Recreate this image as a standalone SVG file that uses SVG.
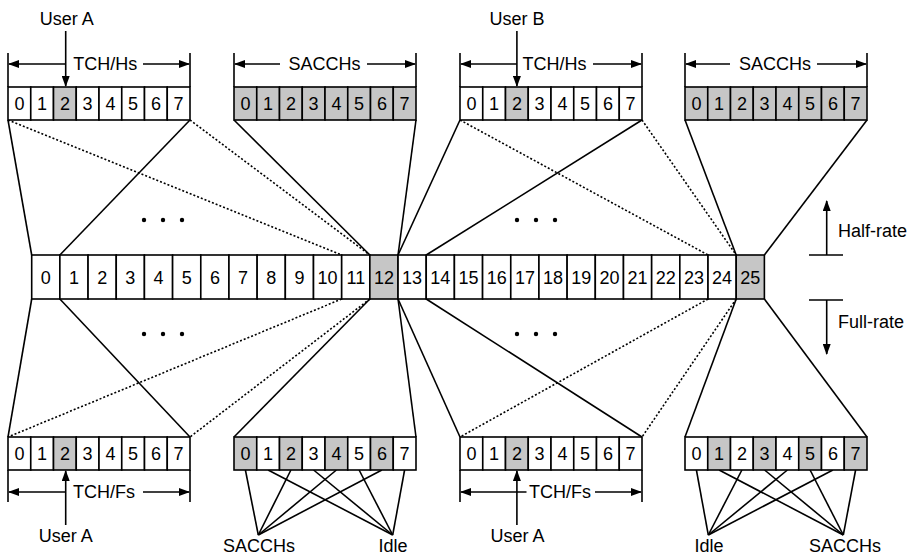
<svg xmlns="http://www.w3.org/2000/svg" width="911" height="556" viewBox="0 0 911 556">
<style>
text{font-family:"Liberation Sans",Arial,sans-serif;font-size:18px;fill:#000;text-anchor:middle}
.c{fill:#fff;stroke:#000;stroke-width:1.6}
.g{fill:#c6c6c6;stroke:#000;stroke-width:1.6}
.ln{stroke:#000;stroke-width:1.6;fill:none}
.dt{stroke:#000;stroke-width:1.6;fill:none;stroke-dasharray:2 2}
.ar{stroke:#000;stroke-width:1.6;fill:none;marker-end:url(#ah)}
</style>
<defs>
<marker id="ah" markerUnits="userSpaceOnUse" markerWidth="11" markerHeight="8" refX="10" refY="4" orient="auto">
<path d="M0,0 L11,4 L0,8 z" fill="#000"/>
</marker>
</defs>

<g id="connectors">
<!-- top half-rate fans -->
<line class="ln" x1="8" y1="120" x2="31.7" y2="255"/>
<line class="ln" x1="190" y1="120" x2="59.88" y2="255"/>
<line class="dt" x1="8" y1="120" x2="341.68" y2="255"/>
<line class="dt" x1="190" y1="120" x2="369.86" y2="255"/>
<line class="ln" x1="234" y1="120" x2="369.86" y2="255"/>
<line class="ln" x1="416" y1="120" x2="398.04" y2="255"/>
<line class="ln" x1="460" y1="120" x2="398.04" y2="255"/>
<line class="ln" x1="642" y1="120" x2="426.22" y2="255"/>
<line class="dt" x1="460" y1="120" x2="708.02" y2="255"/>
<line class="dt" x1="642" y1="120" x2="736.2" y2="255"/>
<line class="ln" x1="685" y1="120" x2="736.2" y2="255"/>
<line class="ln" x1="867" y1="120" x2="764.38" y2="255"/>
<!-- bottom full-rate fans -->
<line class="ln" x1="31.7" y1="299" x2="8" y2="437"/>
<line class="ln" x1="59.88" y1="299" x2="190" y2="437"/>
<line class="dt" x1="341.68" y1="299" x2="8" y2="437"/>
<line class="dt" x1="369.86" y1="299" x2="190" y2="437"/>
<line class="ln" x1="369.86" y1="299" x2="234" y2="437"/>
<line class="ln" x1="398.04" y1="299" x2="416" y2="437"/>
<line class="ln" x1="398.04" y1="299" x2="460" y2="437"/>
<line class="ln" x1="426.22" y1="299" x2="642" y2="437"/>
<line class="dt" x1="708.02" y1="299" x2="460" y2="437"/>
<line class="dt" x1="736.2" y1="299" x2="642" y2="437"/>
<line class="ln" x1="736.2" y1="299" x2="685" y2="437"/>
<line class="ln" x1="764.38" y1="299" x2="867" y2="437"/>
<!-- SACCH / Idle fans bottom left -->
<line class="ln" x1="245.4" y1="470" x2="258.3" y2="535"/>
<line class="ln" x1="290.9" y1="470" x2="258.3" y2="535"/>
<line class="ln" x1="336.4" y1="470" x2="258.3" y2="535"/>
<line class="ln" x1="381.9" y1="470" x2="258.3" y2="535"/>
<line class="ln" x1="268.1" y1="470" x2="392.7" y2="535"/>
<line class="ln" x1="313.6" y1="470" x2="392.7" y2="535"/>
<line class="ln" x1="359.1" y1="470" x2="392.7" y2="535"/>
<line class="ln" x1="404.6" y1="470" x2="392.7" y2="535"/>
<!-- bottom right -->
<line class="ln" x1="696.4" y1="470" x2="708.3" y2="535"/>
<line class="ln" x1="741.9" y1="470" x2="708.3" y2="535"/>
<line class="ln" x1="787.4" y1="470" x2="708.3" y2="535"/>
<line class="ln" x1="832.9" y1="470" x2="708.3" y2="535"/>
<line class="ln" x1="719.1" y1="470" x2="843.3" y2="535"/>
<line class="ln" x1="764.6" y1="470" x2="843.3" y2="535"/>
<line class="ln" x1="810.1" y1="470" x2="843.3" y2="535"/>
<line class="ln" x1="855.6" y1="470" x2="843.3" y2="535"/>
</g>

<g id="ellipsis">
<circle cx="144" cy="220" r="2.2"/><circle cx="163" cy="220" r="2.2"/><circle cx="182" cy="220" r="2.2"/>
<circle cx="517" cy="220" r="2.2"/><circle cx="536" cy="220" r="2.2"/><circle cx="555" cy="220" r="2.2"/>
<circle cx="144" cy="334" r="2.2"/><circle cx="163" cy="334" r="2.2"/><circle cx="182" cy="334" r="2.2"/>
<circle cx="517" cy="334" r="2.2"/><circle cx="536" cy="334" r="2.2"/><circle cx="555" cy="334" r="2.2"/>
</g>

<g id="top-tch-hs-a">
<line class="ln" x1="8" y1="53" x2="8" y2="87"/><line class="ln" x1="190" y1="53" x2="190" y2="87"/>
<line class="ar" x1="65.7" y1="64" x2="9" y2="64"/><line class="ar" x1="143" y1="64" x2="189" y2="64"/>
<text x="105.3" y="69.5">TCH/Hs</text>
<text x="66.7" y="25">User A</text>
<line class="ar" x1="65.7" y1="31" x2="65.7" y2="86"/>
<rect class="c" x="8" y="87" width="22.75" height="33"/><rect class="c" x="30.75" y="87" width="22.75" height="33"/><rect class="g" x="53.5" y="87" width="22.75" height="33"/><rect class="c" x="76.25" y="87" width="22.75" height="33"/><rect class="c" x="99" y="87" width="22.75" height="33"/><rect class="c" x="121.75" y="87" width="22.75" height="33"/><rect class="c" x="144.5" y="87" width="22.75" height="33"/><rect class="c" x="167.25" y="87" width="22.75" height="33"/>
<text x="19.4" y="110">0</text><text x="42.1" y="110">1</text><text x="64.9" y="110">2</text><text x="87.6" y="110">3</text><text x="110.4" y="110">4</text><text x="133.1" y="110">5</text><text x="155.9" y="110">6</text><text x="178.6" y="110">7</text>
</g>

<g id="top-sacch-1">
<line class="ln" x1="234" y1="53" x2="234" y2="87"/><line class="ln" x1="416" y1="53" x2="416" y2="87"/>
<line class="ar" x1="280" y1="64" x2="235" y2="64"/><line class="ar" x1="367" y1="64" x2="415" y2="64"/>
<text x="324.5" y="69.5">SACCHs</text>
<rect class="g" x="234" y="87" width="22.75" height="33"/><rect class="g" x="256.75" y="87" width="22.75" height="33"/><rect class="g" x="279.5" y="87" width="22.75" height="33"/><rect class="g" x="302.25" y="87" width="22.75" height="33"/><rect class="g" x="325" y="87" width="22.75" height="33"/><rect class="g" x="347.75" y="87" width="22.75" height="33"/><rect class="g" x="370.5" y="87" width="22.75" height="33"/><rect class="g" x="393.25" y="87" width="22.75" height="33"/>
<text x="245.4" y="110">0</text><text x="268.1" y="110">1</text><text x="290.9" y="110">2</text><text x="313.6" y="110">3</text><text x="336.4" y="110">4</text><text x="359.1" y="110">5</text><text x="381.9" y="110">6</text><text x="404.6" y="110">7</text>
</g>

<g id="top-tch-hs-b">
<line class="ln" x1="460" y1="53" x2="460" y2="87"/><line class="ln" x1="642" y1="53" x2="642" y2="87"/>
<line class="ar" x1="516.9" y1="64" x2="461" y2="64"/><line class="ar" x1="593" y1="64" x2="641" y2="64"/>
<text x="554.5" y="69.5">TCH/Hs</text>
<text x="516.9" y="25">User B</text>
<line class="ar" x1="516.9" y1="31" x2="516.9" y2="86"/>
<rect class="c" x="460" y="87" width="22.75" height="33"/><rect class="c" x="482.75" y="87" width="22.75" height="33"/><rect class="g" x="505.5" y="87" width="22.75" height="33"/><rect class="c" x="528.25" y="87" width="22.75" height="33"/><rect class="c" x="551" y="87" width="22.75" height="33"/><rect class="c" x="573.75" y="87" width="22.75" height="33"/><rect class="c" x="596.5" y="87" width="22.75" height="33"/><rect class="c" x="619.25" y="87" width="22.75" height="33"/>
<text x="471.4" y="110">0</text><text x="494.1" y="110">1</text><text x="516.9" y="110">2</text><text x="539.6" y="110">3</text><text x="562.4" y="110">4</text><text x="585.1" y="110">5</text><text x="607.9" y="110">6</text><text x="630.6" y="110">7</text>
</g>

<g id="top-sacch-2">
<line class="ln" x1="685" y1="53" x2="685" y2="87"/><line class="ln" x1="867" y1="53" x2="867" y2="87"/>
<line class="ar" x1="730" y1="64" x2="686" y2="64"/><line class="ar" x1="817" y1="64" x2="866" y2="64"/>
<text x="775" y="69.5">SACCHs</text>
<rect class="g" x="685" y="87" width="22.75" height="33"/><rect class="g" x="707.75" y="87" width="22.75" height="33"/><rect class="g" x="730.5" y="87" width="22.75" height="33"/><rect class="g" x="753.25" y="87" width="22.75" height="33"/><rect class="g" x="776" y="87" width="22.75" height="33"/><rect class="g" x="798.75" y="87" width="22.75" height="33"/><rect class="g" x="821.5" y="87" width="22.75" height="33"/><rect class="g" x="844.25" y="87" width="22.75" height="33"/>
<text x="696.4" y="110">0</text><text x="719.1" y="110">1</text><text x="741.9" y="110">2</text><text x="764.6" y="110">3</text><text x="787.4" y="110">4</text><text x="810.1" y="110">5</text><text x="832.9" y="110">6</text><text x="855.6" y="110">7</text>
</g>

<g id="multiframe">
<rect class="c" x="31.7" y="255" width="28.18" height="44"/><rect class="c" x="59.88" y="255" width="28.18" height="44"/><rect class="c" x="88.06" y="255" width="28.18" height="44"/><rect class="c" x="116.24" y="255" width="28.18" height="44"/><rect class="c" x="144.42" y="255" width="28.18" height="44"/><rect class="c" x="172.6" y="255" width="28.18" height="44"/><rect class="c" x="200.78" y="255" width="28.18" height="44"/><rect class="c" x="228.96" y="255" width="28.18" height="44"/><rect class="c" x="257.14" y="255" width="28.18" height="44"/><rect class="c" x="285.32" y="255" width="28.18" height="44"/><rect class="c" x="313.5" y="255" width="28.18" height="44"/><rect class="c" x="341.68" y="255" width="28.18" height="44"/><rect class="g" x="369.86" y="255" width="28.18" height="44"/><rect class="c" x="398.04" y="255" width="28.18" height="44"/><rect class="c" x="426.22" y="255" width="28.18" height="44"/><rect class="c" x="454.4" y="255" width="28.18" height="44"/><rect class="c" x="482.58" y="255" width="28.18" height="44"/><rect class="c" x="510.76" y="255" width="28.18" height="44"/><rect class="c" x="538.94" y="255" width="28.18" height="44"/><rect class="c" x="567.12" y="255" width="28.18" height="44"/><rect class="c" x="595.3" y="255" width="28.18" height="44"/><rect class="c" x="623.48" y="255" width="28.18" height="44"/><rect class="c" x="651.66" y="255" width="28.18" height="44"/><rect class="c" x="679.84" y="255" width="28.18" height="44"/><rect class="c" x="708.02" y="255" width="28.18" height="44"/><rect class="g" x="736.2" y="255" width="28.18" height="44"/>
<text x="45.8" y="283.5">0</text><text x="74" y="283.5">1</text><text x="102.2" y="283.5">2</text><text x="130.3" y="283.5">3</text><text x="158.5" y="283.5">4</text><text x="186.7" y="283.5">5</text><text x="214.9" y="283.5">6</text><text x="243.1" y="283.5">7</text><text x="271.2" y="283.5">8</text><text x="299.4" y="283.5">9</text><text x="327.6" y="283.5">10</text><text x="355.8" y="283.5">11</text><text x="384" y="283.5">12</text><text x="412.1" y="283.5">13</text><text x="440.3" y="283.5">14</text><text x="468.5" y="283.5">15</text><text x="496.7" y="283.5">16</text><text x="524.9" y="283.5">17</text><text x="553" y="283.5">18</text><text x="581.2" y="283.5">19</text><text x="609.4" y="283.5">20</text><text x="637.6" y="283.5">21</text><text x="665.8" y="283.5">22</text><text x="693.9" y="283.5">23</text><text x="722.1" y="283.5">24</text><text x="750.3" y="283.5">25</text>
</g>

<g id="rate-legend">
<line class="ln" x1="809" y1="255" x2="843" y2="255"/>
<line class="ar" x1="826.7" y1="255" x2="826.7" y2="201"/>
<text x="872.5" y="237" style="text-anchor:middle">Half-rate</text>
<line class="ln" x1="809" y1="300" x2="843" y2="300"/>
<line class="ar" x1="826.7" y1="300" x2="826.7" y2="354"/>
<text x="871" y="328">Full-rate</text>
</g>

<g id="bottom-tch-fs-a">
<rect class="c" x="8" y="437" width="22.75" height="33"/><rect class="c" x="30.75" y="437" width="22.75" height="33"/><rect class="g" x="53.5" y="437" width="22.75" height="33"/><rect class="c" x="76.25" y="437" width="22.75" height="33"/><rect class="c" x="99" y="437" width="22.75" height="33"/><rect class="c" x="121.75" y="437" width="22.75" height="33"/><rect class="c" x="144.5" y="437" width="22.75" height="33"/><rect class="c" x="167.25" y="437" width="22.75" height="33"/>
<text x="19.4" y="460">0</text><text x="42.1" y="460">1</text><text x="64.9" y="460">2</text><text x="87.6" y="460">3</text><text x="110.4" y="460">4</text><text x="133.1" y="460">5</text><text x="155.9" y="460">6</text><text x="178.6" y="460">7</text>
<line class="ln" x1="8" y1="470" x2="8" y2="502"/><line class="ln" x1="190" y1="470" x2="190" y2="502"/>
<line class="ar" x1="65.7" y1="492" x2="9" y2="492"/><line class="ar" x1="143" y1="492" x2="189" y2="492"/>
<text x="104" y="497.5">TCH/Fs</text>
<line class="ar" x1="65.7" y1="525" x2="65.7" y2="471"/>
<text x="65.7" y="542">User A</text>
</g>

<g id="bottom-sacch-1">
<rect class="g" x="234" y="437" width="22.75" height="33"/><rect class="c" x="256.75" y="437" width="22.75" height="33"/><rect class="g" x="279.5" y="437" width="22.75" height="33"/><rect class="c" x="302.25" y="437" width="22.75" height="33"/><rect class="g" x="325" y="437" width="22.75" height="33"/><rect class="c" x="347.75" y="437" width="22.75" height="33"/><rect class="g" x="370.5" y="437" width="22.75" height="33"/><rect class="c" x="393.25" y="437" width="22.75" height="33"/>
<text x="245.4" y="460">0</text><text x="268.1" y="460">1</text><text x="290.9" y="460">2</text><text x="313.6" y="460">3</text><text x="336.4" y="460">4</text><text x="359.1" y="460">5</text><text x="381.9" y="460">6</text><text x="404.6" y="460">7</text>
<text x="259" y="551.5">SACCHs</text>
<text x="393" y="551.5">Idle</text>
</g>

<g id="bottom-tch-fs-b">
<rect class="c" x="460" y="437" width="22.75" height="33"/><rect class="c" x="482.75" y="437" width="22.75" height="33"/><rect class="g" x="505.5" y="437" width="22.75" height="33"/><rect class="c" x="528.25" y="437" width="22.75" height="33"/><rect class="c" x="551" y="437" width="22.75" height="33"/><rect class="c" x="573.75" y="437" width="22.75" height="33"/><rect class="c" x="596.5" y="437" width="22.75" height="33"/><rect class="c" x="619.25" y="437" width="22.75" height="33"/>
<text x="471.4" y="460">0</text><text x="494.1" y="460">1</text><text x="516.9" y="460">2</text><text x="539.6" y="460">3</text><text x="562.4" y="460">4</text><text x="585.1" y="460">5</text><text x="607.9" y="460">6</text><text x="630.6" y="460">7</text>
<line class="ln" x1="460" y1="470" x2="460" y2="502"/><line class="ln" x1="642" y1="470" x2="642" y2="502"/>
<line class="ar" x1="526.5" y1="492" x2="461" y2="492"/><line class="ar" x1="595" y1="492" x2="641" y2="492"/>
<text x="560" y="497.5">TCH/Fs</text>
<line class="ar" x1="516.9" y1="525" x2="516.9" y2="471"/>
<text x="517.5" y="542">User A</text>
</g>

<g id="bottom-sacch-2">
<rect class="c" x="685" y="437" width="22.75" height="33"/><rect class="g" x="707.75" y="437" width="22.75" height="33"/><rect class="c" x="730.5" y="437" width="22.75" height="33"/><rect class="g" x="753.25" y="437" width="22.75" height="33"/><rect class="c" x="776" y="437" width="22.75" height="33"/><rect class="g" x="798.75" y="437" width="22.75" height="33"/><rect class="c" x="821.5" y="437" width="22.75" height="33"/><rect class="g" x="844.25" y="437" width="22.75" height="33"/>
<text x="696.4" y="460">0</text><text x="719.1" y="460">1</text><text x="741.9" y="460">2</text><text x="764.6" y="460">3</text><text x="787.4" y="460">4</text><text x="810.1" y="460">5</text><text x="832.9" y="460">6</text><text x="855.6" y="460">7</text>
<text x="709" y="551.5">Idle</text>
<text x="845" y="551.5">SACCHs</text>
</g>
</svg>
